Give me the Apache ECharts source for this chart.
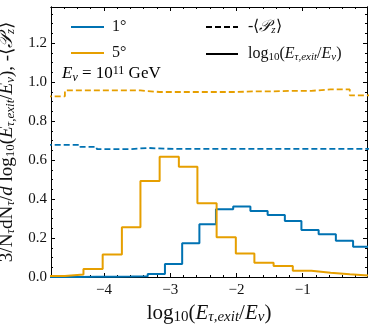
<!DOCTYPE html>
<html>
<head>
<meta charset="utf-8">
<script src="https://cdn.jsdelivr.net/npm/echarts@6/dist/echarts.min.js"></script>
<style>
html, body { margin: 0; padding: 0; background: #fff; }
#chart { width: 374px; height: 325px; }
</style>
</head>
<body>
<div id="chart"></div>
<script>
// 1 degree: bin edges, normalised histogram, -<Pz>
const blueEdges = [-4.88, -4.62, -4.36, -4.11, -3.85, -3.59, -3.34, -3.08, -2.82, -2.56, -2.31, -2.05, -1.79, -1.53, -1.27, -1.02, -0.76, -0.50, -0.24, 0.01]
const blueHist = [0.0, 0.0, 0.001, 0.001, 0.002, 0.004, 0.015, 0.067, 0.173, 0.270, 0.347, 0.361, 0.338, 0.318, 0.287, 0.241, 0.219, 0.186, 0.155]
const bluePz = [0.678, 0.678, 0.667, 0.656, 0.656, 0.662, 0.658, 0.657, 0.657, 0.657, 0.657, 0.657, 0.657, 0.657, 0.657, 0.657, 0.657, 0.657, 0.657]

// 5 degree
const orangeEdges = [-4.88, -4.59, -4.31, -4.02, -3.73, -3.45, -3.16, -2.87, -2.59, -2.30, -2.01, -1.73, -1.44, -1.15, -0.87, -0.58, -0.29, 0.0]
const orangeHist = [0.005, 0.013, 0.041, 0.116, 0.255, 0.492, 0.617, 0.566, 0.378, 0.204, 0.121, 0.073, 0.056, 0.032, 0.022, 0.014, 0.007]
const orangePz = [0.927, 0.957, 0.957, 0.957, 0.957, 0.949, 0.949, 0.949, 0.949, 0.949, 0.952, 0.952, 0.955, 0.955, 0.962, 0.962, 0.932]

const xMajorTicks = [-4, -3, -2, -1]
const xMinorTicks = [-4.6, -4.4, -4.2, -3.8, -3.6, -3.4, -3.2, -2.8, -2.6, -2.4, -2.2, -1.8, -1.6, -1.4, -1.2, -0.8, -0.6, -0.4, -0.2]
const yMajorTicks = [0, 0.2, 0.4, 0.6, 0.8, 1.0, 1.2]
const yMinorTicks = [0.05, 0.1, 0.15, 0.25, 0.3, 0.35, 0.45, 0.5, 0.55, 0.65, 0.7, 0.75, 0.85, 0.9, 0.95, 1.05, 1.1, 1.15, 1.25, 1.3, 1.35]

const xMin = -4.8
const xMax = -0.03
const yMin = 0
const yMax = 1.385

const BLUE = '#0072B2'
const ORANGE = '#E69F00'
const INK = '#111'
const SERIF = 'Liberation Serif'

function makeRich(size) {
  const sub = Math.round(size * 0.7)
  const base = { fontFamily: SERIF, fontWeight: 'normal', color: INK }
  return {
    r: { ...base, fontSize: size, lineHeight: size + 2 },
    i: { ...base, fontSize: size, lineHeight: size + 2, fontStyle: 'italic' },
    s: { ...base, fontSize: sub, lineHeight: sub - 3, fontStyle: 'italic', verticalAlign: 'bottom' },
    sr: { ...base, fontSize: sub, lineHeight: sub - 3, verticalAlign: 'bottom' },
    sup: { ...base, fontSize: sub, lineHeight: sub - 3, verticalAlign: 'top' }
  }
}

const logRatio = '{r|log}{sr|10}{r|(}{i|E}{s|τ,exit}{r|/}{i|E}{s|ν}{r|)}'
const pzText = '{r|-⟨}{i|𝒫}{s|z}{r|⟩}'
const yName = '{r|3/N}{s|τ}{r|dN}{s|τ}{r|/}{i|d}{r| log}{sr|10}{r|(}{i|E}{s|τ,exit}{r|/}{i|E}{s|ν}{r|), -⟨}{i|𝒫}{s|z}{r|⟩}'
const energyText = '{i|E}{s|ν}{r| = 10}{sup|11}{r| GeV}'

function stepData(edges, values) {
  const pts = values.map((v, i) => [edges[i], v])
  pts.push([edges[edges.length - 1], values[values.length - 1]])
  return pts
}

function xAxisDef(position, ticks, len, withLabels) {
  return {
    type: 'value',
    position,
    min: xMin,
    max: xMax,
    axisLine: { show: true, onZero: false, lineStyle: { color: '#000', width: 1 } },
    axisTick: { show: true, inside: true, length: len, customValues: ticks, lineStyle: { color: '#000', width: 1 } },
    axisLabel: withLabels
      ? {
          show: true,
          customValues: ticks,
          margin: 6,
          fontFamily: SERIF,
          fontSize: 15,
          color: INK,
          formatter: (v) => (v < 0 ? '−' : '') + Math.abs(v)
        }
      : { show: false },
    splitLine: { show: false }
  }
}

function yAxisDef(position, ticks, len, withLabels) {
  return {
    type: 'value',
    position,
    min: yMin,
    max: yMax,
    axisLine: { show: true, onZero: false, lineStyle: { color: '#000', width: 1 } },
    axisTick: { show: true, inside: true, length: len, customValues: ticks, lineStyle: { color: '#000', width: 1 } },
    axisLabel: withLabels
      ? {
          show: true,
          customValues: ticks,
          margin: 4,
          fontFamily: SERIF,
          fontSize: 15,
          color: INK,
          formatter: (v) => v.toFixed(1)
        }
      : { show: false },
    splitLine: { show: false }
  }
}

const xMain = xAxisDef('bottom', xMajorTicks, 4, true)
xMain.name = logRatio
xMain.nameLocation = 'middle'
xMain.nameGap = 17
xMain.nameTextStyle = { rich: makeRich(21) }

const yMain = yAxisDef('left', yMajorTicks, 4, true)
yMain.name = yName
yMain.nameLocation = 'middle'
yMain.nameGap = 24
yMain.nameRotate = 90
yMain.nameTextStyle = { rich: makeRich(19) }

const legendLabels = { pz: pzText, logE: logRatio }

const chart = echarts.init(document.getElementById('chart'), null, { renderer: 'canvas' })

chart.setOption({
  animation: false,
  backgroundColor: '#fff',
  grid: { left: 51, right: 7, top: 7, bottom: 48, containLabel: false, outerBoundsMode: 'none' },
  xAxis: [
    xMain,
    xAxisDef('bottom', xMinorTicks, 2, false),
    xAxisDef('top', xMajorTicks, 4, false),
    xAxisDef('top', xMinorTicks, 2, false)
  ],
  yAxis: [
    yMain,
    yAxisDef('left', yMinorTicks, 2, false),
    yAxisDef('right', yMajorTicks, 4, false),
    yAxisDef('right', yMinorTicks, 2, false)
  ],
  legend: [
    {
      data: ['1°', '5°'],
      orient: 'vertical',
      left: 65,
      top: 14,
      itemWidth: 33,
      itemHeight: 14,
      itemGap: 10,
      itemStyle: { opacity: 0 },
      textStyle: { fontFamily: SERIF, fontSize: 16, color: INK, padding: [0, 0, 0, 3] }
    },
    {
      data: ['pz', 'logE'],
      orient: 'vertical',
      left: 200,
      top: 14,
      itemWidth: 32,
      itemHeight: 14,
      itemGap: 10,
      itemStyle: { opacity: 0 },
      formatter: (name) => legendLabels[name],
      textStyle: { padding: [0, 0, 0, 5], rich: makeRich(16) }
    }
  ],
  graphic: [
    {
      type: 'text',
      x: 62,
      y: 74,
      style: { text: energyText, rich: makeRich(17), align: 'left', verticalAlign: 'middle' }
    }
  ],
  series: [
    {
      name: '1°',
      type: 'line',
      step: 'end',
      symbol: 'none',
      data: stepData(blueEdges, blueHist),
      lineStyle: { color: BLUE, width: 2 },
      itemStyle: { color: BLUE },
      z: 3
    },
    {
      name: '5°',
      type: 'line',
      step: 'end',
      symbol: 'none',
      data: stepData(orangeEdges, orangeHist),
      lineStyle: { color: ORANGE, width: 2 },
      itemStyle: { color: ORANGE },
      z: 4
    },
    {
      name: 'pz1',
      type: 'line',
      step: 'end',
      symbol: 'none',
      data: stepData(blueEdges, bluePz),
      lineStyle: { color: BLUE, width: 1.8, type: [6, 3] },
      z: 3
    },
    {
      name: 'pz5',
      type: 'line',
      step: 'end',
      symbol: 'none',
      data: stepData(orangeEdges, orangePz),
      lineStyle: { color: ORANGE, width: 1.8, type: [6, 3] },
      z: 4
    },
    {
      name: 'pz',
      type: 'line',
      symbol: 'none',
      data: [],
      lineStyle: { color: '#000', width: 1.8, type: [6, 3] },
      itemStyle: { color: '#000' }
    },
    {
      name: 'logE',
      type: 'line',
      symbol: 'none',
      data: [],
      lineStyle: { color: '#000', width: 2 },
      itemStyle: { color: '#000' }
    }
  ]
})
</script>
</body>
</html>
